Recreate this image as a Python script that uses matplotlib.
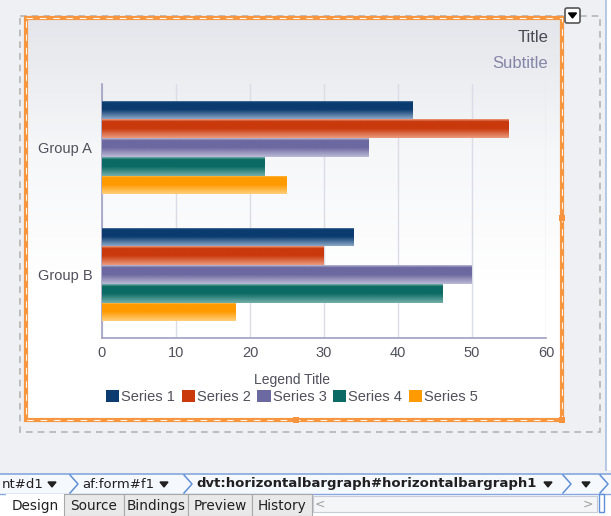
import numpy as np
import matplotlib
matplotlib.use("Agg")
import matplotlib.pyplot as plt
from matplotlib.colors import LinearSegmentedColormap
from matplotlib.patches import Rectangle, Patch, FancyBboxPatch

# data
groups = ["Group A", "Group B"]
series = ["Series 1", "Series 2", "Series 3", "Series 4", "Series 5"]
s1 = [42, 34]
s2 = [55, 30]
s3 = [36, 50]
s4 = [22, 46]
s5 = [25, 18]
values = [s1, s2, s3, s4, s5]
xticks = [0, 10, 20, 30, 40, 50, 60]

# (dark, light) per series for the glossy gradient look
colors = [("#0b3b6f", "#8aa6c6"), ("#c9390c", "#eb9a7c"), ("#6c68a0", "#bcbad6"),
          ("#0b6b64", "#74aea9"), ("#ff9a00", "#ffcf7a")]

W, H = 611, 516
fig = plt.figure(figsize=(W / 100, H / 100), dpi=100)
fig.patch.set_facecolor("#eef0f4")

# overlay axes in pixel coords for the IDE chrome
bg = fig.add_axes([0, 0, 1, 1])
bg.set_xlim(0, W)
bg.set_ylim(H, 0)
bg.axis("off")
bg.set_zorder(0)

# chart background gradient inside the orange selection box
grad = np.linspace(0, 1, 64).reshape(-1, 1)
gcm = LinearSegmentedColormap.from_list("bgg", ["#e4e6eb", "#f6f7f9", "#ffffff", "#ffffff"])
bg.imshow(grad, cmap=gcm, extent=[27, 561, 419, 18], aspect="auto", zorder=1)

# outer gray dashed box
bg.add_patch(Rectangle((20, 16), 580, 416, fill=False, ec="#b5b5b5", lw=1.2,
                       ls=(0, (4, 3)), zorder=2))
# orange selection box
bg.add_patch(Rectangle((26, 18), 536, 402, fill=False, ec="#f7963f", lw=3.0, zorder=3))
bg.add_patch(Rectangle((26, 18), 536, 402, fill=False, ec="#fff4ea", lw=0.8,
                       ls=(0, (6, 6)), zorder=4))
for hx, hy in [(296, 420), (562, 420), (562, 218)]:
    bg.add_patch(Rectangle((hx - 3, hy - 3), 6, 6, fc="#f7923e", ec="none", zorder=5))

# little dropdown button top right
bg.add_patch(FancyBboxPatch((565, 8), 15, 15, boxstyle="round,pad=0,rounding_size=2",
                            fc="white", ec="#555555", lw=1.2, zorder=5))
bg.fill([568.5, 576.5, 572.5], [13, 13, 18], color="black", zorder=6)

# right edge strip
bg.add_patch(Rectangle((606, 0), 5, 470, fc="white", ec="none", zorder=2))
bg.plot([606, 606], [0, 470], color="#a9c1e3", lw=1.2, zorder=3)

# breadcrumb bar
bg.add_patch(Rectangle((0, 474), W, 20, fc="#f5f8fd", ec="none", zorder=2))
bg.plot([0, W], [474, 474], color="#86a8dc", lw=1.2, zorder=3)
bg.plot([0, W], [494, 494], color="#86a8dc", lw=1.0, zorder=3)
for cx in [70, 184, 563, 600]:
    bg.plot([cx, cx + 8, cx], [475, 484, 493], color="#5f8fd6", lw=1.1, zorder=4)
crumb = dict(fontsize=9.5, color="#202020", va="center", family="DejaVu Sans", zorder=5)
bg.text(2, 484, "nt#d1", **crumb)
bg.text(82, 484, "af:form#f1", **crumb)
bg.text(196, 484, "dvt:horizontalbargraph#horizontalbargraph1", fontweight="bold", **crumb)
for tx in [52, 164, 548, 586]:
    bg.fill([tx - 4, tx + 4, tx], [482, 482, 487], color="#202020", zorder=5)

# tab row
bg.add_patch(Rectangle((0, 494), W, 22, fc="#ffffff", ec="none", zorder=2))
tabs = [("Design", 6, 64), ("Source", 64, 124), ("Bindings", 124, 188),
        ("Preview", 188, 252), ("History", 252, 312)]
for i, (name, x0, x1) in enumerate(tabs):
    fc = "white" if i == 0 else "#e9e9ea"
    bg.add_patch(Rectangle((x0, 494), x1 - x0, 22, fc=fc,
                           ec="none" if i == 0 else "#a8a8a8", lw=0.8, zorder=3))
    bg.text((x0 + x1) / 2, 506, name, fontsize=9.8, color="#202020", ha="center",
            va="center", family="DejaVu Sans", zorder=5)
bg.add_patch(Rectangle((313, 496), 284, 16, fc="#f4f5f7", ec="#c8ccd4", lw=0.8, zorder=3))
bg.text(320, 504, "<", fontsize=9, color="#a0a0a0", ha="center", va="center", zorder=5)
bg.text(588, 504, ">", fontsize=9, color="#a0a0a0", ha="center", va="center", zorder=5)
bg.add_patch(Rectangle((599, 494), 5, 18, fc="white", ec="#5f8fd6", lw=1.0, zorder=3))

# title / subtitle
bg.text(548, 38, "Title", fontsize=12, color="#4a4a55", ha="right", va="center",
        family="Liberation Sans", zorder=6)
bg.text(548, 63, "Subtitle", fontsize=12, color="#8585a8", ha="right", va="center",
        family="Liberation Sans", zorder=6)

# the bar chart itself
L, R, T, B = 102, 546, 84, 338
ax = fig.add_axes([L / W, 1 - B / H, (R - L) / W, (B - T) / H])
ax.set_zorder(2)
ax.patch.set_alpha(0)

y = np.arange(len(groups))
bh = 0.148
ax.set_xlim(0, 60)
ax.set_ylim(len(groups) - 0.5, -0.5)
ax.set_autoscale_on(False)
for i, vals in enumerate(values):
    dark, light = colors[i]
    rects = ax.barh(y + (i - 2) * bh, vals, height=bh, color=dark, lw=0, zorder=3)
    cm = LinearSegmentedColormap.from_list(
        "c%d" % i, [(0, light), (0.12, dark), (0.5, dark), (1, light)])
    for r in rects:
        x0, y0, w, h = r.get_x(), r.get_y(), r.get_width(), r.get_height()
        im = ax.imshow(grad, cmap=cm, extent=[x0, x0 + w, y0 + h, y0],
                       aspect="auto", zorder=4)
        im.set_clip_path(r)

ax.set_xticks(xticks)
ax.set_yticks(y)
ax.set_yticklabels(groups)
ax.tick_params(length=0, labelsize=10.5, labelcolor="#50505c")
ax.tick_params(axis="x", pad=6)
ax.tick_params(axis="y", pad=7)
for lab in ax.get_xticklabels() + ax.get_yticklabels():
    lab.set_family("Liberation Sans")
ax.grid(axis="x", color="#dcdce6", lw=1, zorder=1)
for s in ["top", "right"]:
    ax.spines[s].set_visible(False)
for s in ["left", "bottom"]:
    ax.spines[s].set_color("#a0a0c4")
    ax.spines[s].set_linewidth(1.2)

handles = [Patch(fc=c[0], ec="none") for c in colors]
leg = fig.legend(handles, series, loc="upper center", ncol=5,
                 bbox_to_anchor=(292 / W, 1 - 366 / H), frameon=False,
                 title="Legend Title", handlelength=0.9, handleheight=0.9,
                 handletextpad=0.15, columnspacing=0.45, borderpad=0, labelspacing=0,
                 prop={"family": "Liberation Sans", "size": 10.5})
leg.get_title().set_fontproperties({"family": "Liberation Sans", "size": 10})
leg.get_title().set_color("#50505c")
leg._legend_box.sep = 2
for t in leg.get_texts():
    t.set_color("#50505c")

fig.savefig("out.png", dpi=100)
